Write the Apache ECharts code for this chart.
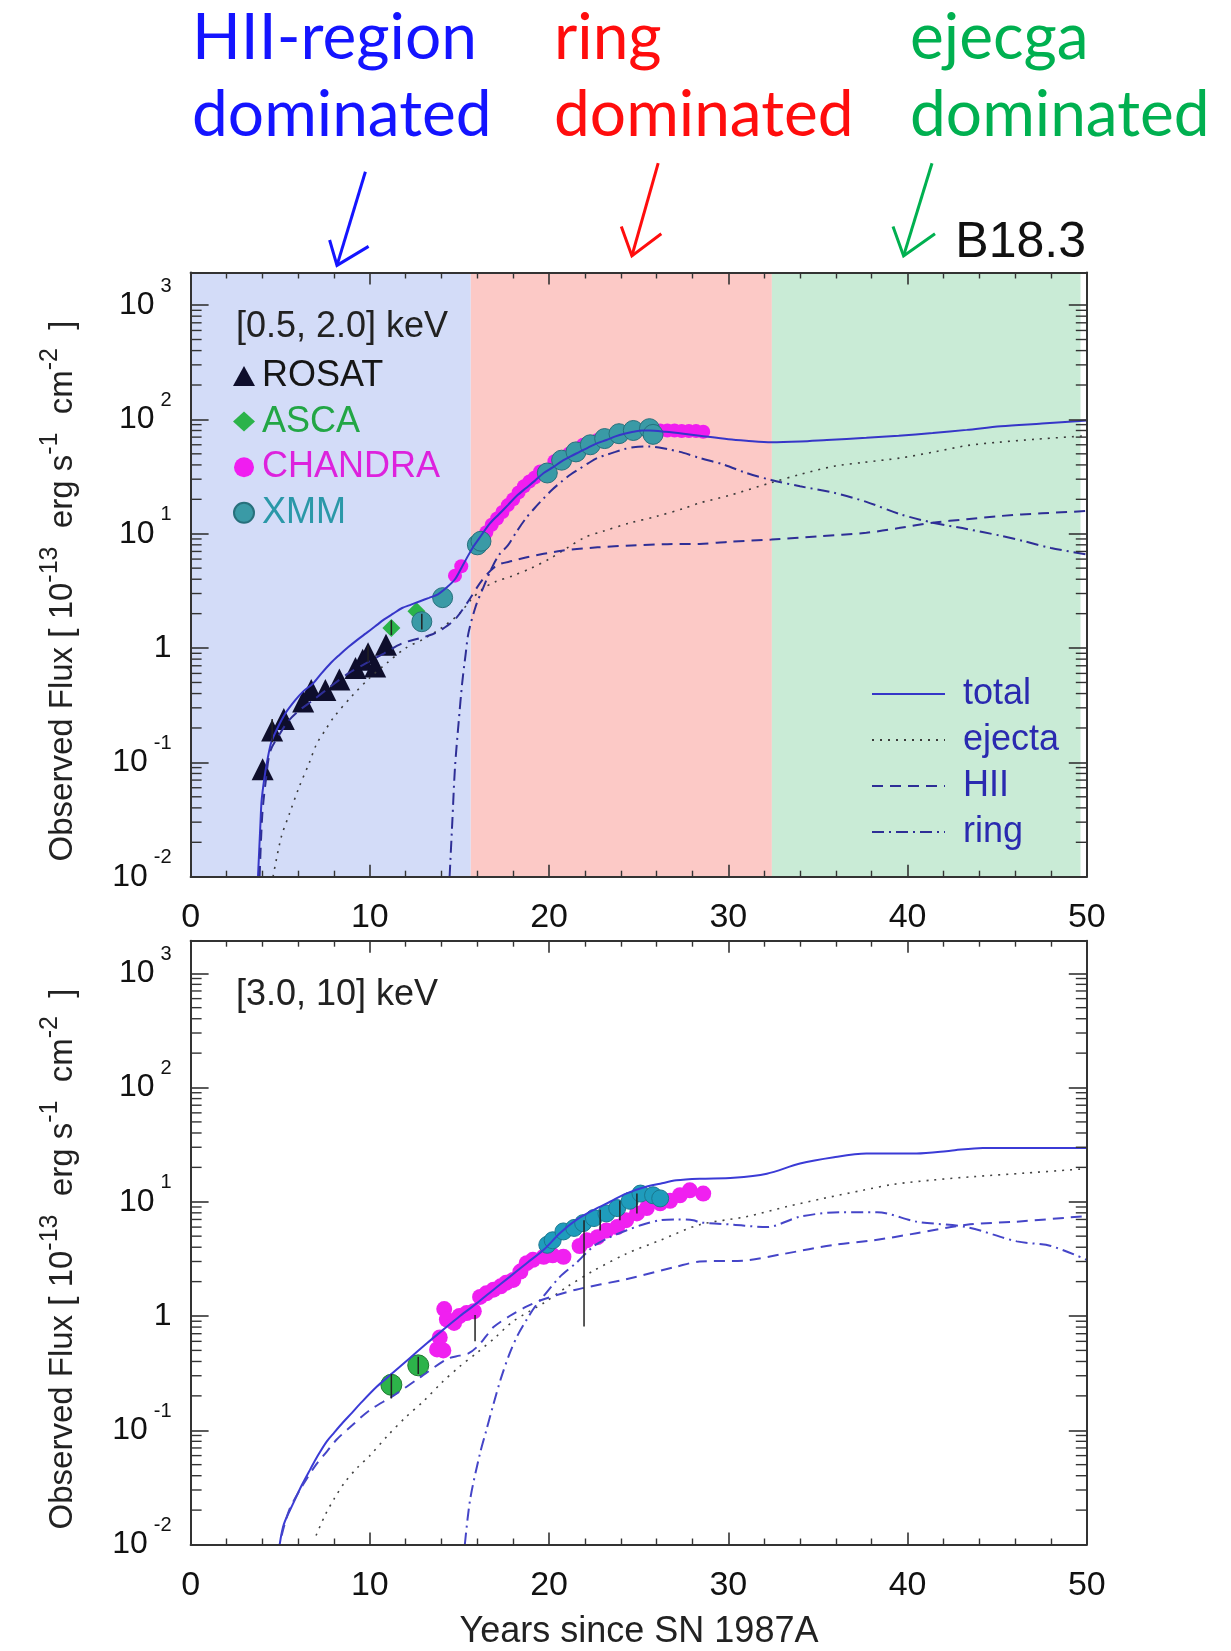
<!DOCTYPE html>
<html><head><meta charset="utf-8">
<script src="https://cdn.jsdelivr.net/npm/echarts@6/dist/echarts.min.js"></script>
<style>html,body{margin:0;padding:0;background:#fff}#c{width:1231px;height:1651px}</style>
</head><body><div id="c"></div>
<script>
// ---------------- data ----------------
const X_TICK_LABELS = [0, 10, 20, 30, 40, 50];
const Y_TICK_EXPONENTS = [-2, -1, 0, 1, 2, 3];
const REGION_BOUNDS = [0, 15.63, 32.43, 49.65];
const REGION_COLORS = ['#d3dcf8', '#fcc9c6', '#c9ebd6'];

// top panel [0.5, 2.0] keV
const topRosat = [[4.02,0.087],[4.55,0.19],[5.2,0.24],[6.28,0.34],[6.73,0.43],[7.52,0.43],[8.3,0.53],[9.2,0.67],[9.6,0.79],[9.9,0.9],[10.3,0.69],[10.9,1.07]];
const topAsca = [[11.2,1.5],[12.6,2.1]];
const topChandra = [[14.75,4.3],[15.1,5.2],[16.5,10.3],[16.8,12],[17.1,13.6],[17.4,15.5],[17.7,17.8],[18.0,20],[18.3,23],[18.6,26],[18.9,28.6],[19.2,31],[19.5,35],[20.3,43],[21.1,50],[21.9,60],[22.7,66],[23.7,74],[24.7,80],[25.4,82],[26.2,80],[26.6,80],[27.0,80],[27.4,79],[27.8,79],[28.2,79],[28.6,78]];
const topXmm = [[12.9,1.7],[14.06,2.76],[16.0,8.0],[16.2,8.6],[19.9,34],[20.7,44],[21.5,52],[22.3,60],[23.1,68],[23.9,75],[24.7,80],[25.6,83],[25.8,74]];
const topErr = [[4.55,0.15,0.24],[9.9,0.75,1.05],[11.2,1.3,1.75],[12.9,1.45,2.0]];
const topTotal = [[3.76,0.01],[3.9,0.03],[3.96,0.046],[4.1,0.07],[4.26,0.10],[4.5,0.15],[4.85,0.2],[5.3,0.27],[5.84,0.35],[6.3,0.42],[6.83,0.49],[7.3,0.6],[7.82,0.74],[8.3,0.87],[8.8,1.02],[9.3,1.18],[9.8,1.35],[10.3,1.55],[10.8,1.78],[11.3,2.0],[11.8,2.24],[12.3,2.4],[12.8,2.57],[13.3,2.75],[13.8,2.95],[14.3,3.4],[14.75,4.0],[15.1,5.0],[15.5,6.5],[15.8,7.8],[16.1,9.1],[16.7,12.3],[17.2,14.8],[17.7,17.8],[18.2,21.5],[18.7,25],[19.2,29],[19.7,34],[20.2,38],[20.7,43],[21.2,47.5],[21.7,52],[22.2,57],[22.7,62],[23.2,66],[23.7,71],[24.2,75],[24.7,78],[25.2,80],[25.6,80],[26.5,78],[27.5,75],[28.4,72],[30,67],[31,65],[32.4,63],[34,64],[35.5,66],[37.7,69],[39.5,72],[41.4,76],[43.3,81],[45.2,87],[47.5,92],[50,98]];
const topEjecta = [[4.6,0.01],[5.05,0.022],[5.5,0.035],[6.04,0.06],[6.63,0.10],[7.03,0.145],[7.5,0.19],[8.0,0.25],[9.0,0.38],[10.0,0.55],[11.0,0.75],[12.0,1.0],[13.0,1.2],[14.0,1.5],[15.0,2.0],[15.6,2.6],[16.3,3.3],[17.0,3.8],[18.0,4.3],[19.0,5.0],[20.0,6.0],[21.0,7.5],[22.0,9.3],[23.0,10.5],[24.5,12.4],[26.0,14.2],[27.5,16.6],[28.4,18.6],[30.0,21.5],[32.4,28],[34,33],[35.9,39],[37.5,42],[39.6,46],[41.5,52],[43.3,59],[45,63],[47.1,67],[50,72]];
const topHII = [[3.85,0.01],[4.0,0.035],[4.2,0.07],[4.45,0.126],[5.0,0.18],[5.45,0.23],[6.0,0.28],[6.83,0.35],[7.8,0.46],[8.8,0.6],[9.8,0.74],[10.8,0.9],[11.8,1.1],[12.8,1.22],[13.5,1.32],[14.0,1.45],[14.75,1.78],[15.5,2.58],[16.3,4.0],[17.1,5.3],[18.0,5.8],[18.7,6.2],[20.7,7.1],[22.7,7.6],[24.6,7.9],[26.6,8.1],[28.4,8.15],[30,8.5],[32.4,8.9],[35,9.5],[37.7,10.2],[39.5,11.2],[41.4,12.5],[43.3,13.4],[45.2,14.3],[47.5,15.1],[50,15.8]];
const topRing = [[14.45,0.01],[14.6,0.03],[14.75,0.09],[14.95,0.22],[15.15,0.49],[15.35,0.9],[15.5,1.35],[15.9,2.3],[16.3,3.3],[16.8,5.0],[17.2,6.5],[17.7,7.9],[18.2,10.5],[18.7,13.6],[19.2,16.8],[19.7,20.4],[20.2,24.5],[20.7,28.6],[21.2,33],[21.7,37],[22.2,41.5],[22.7,46],[23.2,49],[23.7,52],[24.2,55],[24.7,57],[25.6,58],[26.6,55],[27.5,51],[28.4,46],[29.8,40],[31,34],[32.4,29.5],[34,26],[35.9,22.8],[37.7,19],[39.6,14.8],[41.4,12.5],[43.3,11],[45.2,9.6],[46.5,8.6],[48,7.5],[50,6.6]];

// bottom panel [3.0, 10] keV
const botAsca = [[11.2,0.25],[12.7,0.37]];
const botChandra = [[13.75,0.51],[13.9,0.65],[14.1,0.5],[14.15,1.15],[14.3,0.93],[14.7,0.87],[15.0,1.0],[15.4,1.06],[15.8,1.1],[16.15,1.47],[16.5,1.58],[16.9,1.7],[17.3,1.82],[17.6,1.95],[18.0,2.07],[18.4,2.45],[18.75,2.9],[19.1,3.1],[19.7,3.3],[20.2,3.4],[20.8,3.3],[21.7,4.1],[22.1,4.6],[22.7,4.9],[23.2,5.6],[23.8,6.0],[24.3,6.9],[24.9,7.9],[25.45,8.8],[26.2,9.7],[26.75,10.2],[27.3,11.4],[27.85,12.6],[28.6,11.8]];
const botXmm = [[19.9,4.2],[20.2,4.6],[20.8,5.5],[21.4,5.9],[21.9,6.5],[22.5,7.2],[23.2,7.9],[23.8,8.8],[24.5,10.2],[25.1,11.8],[25.8,11.4],[26.2,10.7]];
const botErr = [[11.2,0.19,0.31],[12.7,0.31,0.44],[15.87,0.6,1.02],[21.95,0.81,6.9],[22.85,5.6,8.5],[23.95,6.9,10.2],[24.9,7.9,11.8]];
const botTotal = [[4.97,0.01],[5.2,0.015],[5.73,0.023],[6.2,0.033],[6.66,0.045],[7.1,0.06],[7.6,0.08],[8.0,0.095],[8.52,0.118],[9.0,0.142],[9.45,0.17],[10.38,0.24],[11.3,0.32],[12.24,0.43],[13.2,0.58],[14.1,0.76],[15.03,1.0],[15.96,1.29],[16.9,1.7],[17.8,2.2],[18.75,2.9],[19.7,3.8],[20.6,5.3],[21.5,6.9],[22.5,8.5],[23.4,10],[24.3,11.8],[25.3,13.4],[26.2,14.4],[27.1,15.4],[28.4,15.9],[30.3,16.2],[32.15,17.6],[34.0,21.6],[35.9,24.5],[37.7,26.4],[40.5,26.5],[42.4,28],[44.2,29.6],[47,29.6],[50,29.6]];
const botEjecta = [[7.0,0.012],[7.5,0.018],[8.0,0.025],[8.6,0.035],[9.3,0.047],[10.0,0.06],[11.0,0.09],[12.0,0.13],[13.0,0.18],[14.0,0.26],[15.0,0.36],[16.0,0.48],[17.0,0.65],[18.0,0.9],[19.7,1.3],[21,1.8],[22.5,2.5],[24.3,3.5],[26.2,4.6],[28.4,6.3],[31.0,7.4],[33.3,9.1],[35.3,10.7],[37.5,12.6],[39.2,14.2],[41.4,15.5],[43.7,16.6],[46.5,17.8],[50,19.5]];
const botHII = [[5.08,0.012],[5.5,0.02],[6.2,0.032],[7.0,0.05],[7.6,0.065],[8.15,0.083],[9.0,0.11],[10.0,0.15],[11.3,0.2],[12.8,0.29],[14.3,0.42],[15.0,0.45],[15.5,0.47],[16.0,0.54],[16.5,0.67],[16.9,0.8],[17.8,1.0],[18.7,1.2],[19.7,1.4],[21.5,1.7],[24.3,2.1],[27.1,2.7],[28.4,3.0],[30.8,3.05],[33.1,3.5],[35.9,4.2],[38.1,4.6],[40.5,5.3],[43.3,6.3],[46.1,6.7],[50,7.5]];
const botRing = [[15.3,0.01],[15.6,0.025],[16.15,0.063],[16.5,0.1],[16.9,0.17],[17.3,0.28],[17.8,0.47],[18.25,0.68],[18.75,0.93],[19.2,1.2],[19.7,1.5],[20.6,2.2],[21.5,2.9],[22.5,4.1],[23.4,4.9],[24.3,5.6],[25.2,6.3],[26.2,6.9],[27.1,7.0],[28.05,6.9],[28.4,6.6],[30.3,6.3],[32.15,6.0],[34.0,7.4],[36.2,8.1],[38.3,8.1],[40.5,6.7],[43.3,6.0],[46.1,4.5],[48,4.1],[50,3.1]];

// ---------------- styling ----------------
const FONT = '"Liberation Sans", Arial, Helvetica, sans-serif';
const AX = '#333';
const Y_MIN = 0.01, Y_MAX = 1928;
const MINOR_TICK_VALUES = [];
for (let n = -2; n <= 3; n++) for (let k = 2; k <= 9; k++) { const v = k * Math.pow(10, n); if (v < Y_MAX) MINOR_TICK_VALUES.push([0, v]); }

const chart = echarts.init(document.getElementById('c'), null, {renderer: 'canvas'});

function yLabelFmt(v) {
  const e = Math.log10(v);
  if (Math.abs(e - Math.round(e)) > 1e-6) return '';
  const r = Math.round(e);
  if (Y_TICK_EXPONENTS.indexOf(r) < 0) return '';
  if (r === 0) return '{b|1}';
  return '{b|10}{s|' + r + '}';
}
const yRich = {
  b: {fontSize: 32, fontFamily: FONT, color: '#111', lineHeight: 58},
  s: {fontSize: 20, fontFamily: FONT, color: '#111', lineHeight: 20, verticalAlign: 'top', padding: [0, 0, 0, 6]}
};

function xAxisDef(grid, pos, showLabel) {
  return {
    gridIndex: grid, type: 'value', min: 0, max: 50, interval: 10, position: pos, z: 10,
    axisLine: {show: true, onZero: false, lineStyle: {color: AX, width: 2}},
    axisTick: {show: true, inside: true, length: 12, lineStyle: {color: AX, width: 1.6}},
    minorTick: {show: true, splitNumber: 5, length: 6, lineStyle: {color: AX, width: 1.4}},
    axisLabel: {show: showLabel, margin: 24, fontSize: 34, fontFamily: FONT, color: '#111',
      formatter: v => (X_TICK_LABELS.indexOf(v) >= 0 ? String(v) : '')},
    splitLine: {show: false}
  };
}
function yAxisDef(grid, pos, showLabel) {
  return {
    gridIndex: grid, type: 'log', logBase: 10, min: Y_MIN, max: Y_MAX, position: pos, z: 10,
    axisLine: {show: true, onZero: false, lineStyle: {color: AX, width: 2}},
    axisTick: {show: true, inside: true, length: 18, lineStyle: {color: AX, width: 1.6}},
    minorTick: {show: false},
    axisLabel: {show: showLabel, margin: 19, formatter: yLabelFmt, rich: yRich},
    splitLine: {show: false}
  };
}

function scatter(name, data, xi, yi, symbol, size, color, border) {
  return {name, type: 'scatter', xAxisIndex: xi, yAxisIndex: yi, data, symbol, symbolSize: size, z: 3,
    itemStyle: {color, opacity: 1, borderColor: border || color, borderWidth: border ? 1 : 0}};
}
function line(name, data, xi, yi, color, type, width) {
  return {name, type: 'line', xAxisIndex: xi, yAxisIndex: yi, data, symbol: 'none', showSymbol: false,
    smooth: 0.3, z: 4, clip: true, lineStyle: {color, type, width}, itemStyle: {color}};
}
function errBars(data, xi, yi) {
  return {type: 'custom', xAxisIndex: xi, yAxisIndex: yi, data, z: 5, silent: true,
    renderItem: (p, api) => {
      const a = api.coord([api.value(0), api.value(1)]);
      const b = api.coord([api.value(0), api.value(2)]);
      return {type: 'line', shape: {x1: a[0], y1: a[1], x2: b[0], y2: b[1]}, style: {stroke: '#222', lineWidth: 1.5}};
    }};
}
function minorTicks(xi, yi) {
  return {type: 'custom', xAxisIndex: xi, yAxisIndex: yi, data: MINOR_TICK_VALUES, z: 11, silent: true, clip: false,
    renderItem: (p, api) => {
      const v = api.value(1);
      const a = api.coord([0, v]);
      const b = api.coord([50, v]);
      return {type: 'group', children: [
        {type: 'line', shape: {x1: a[0], y1: a[1], x2: a[0] + 11, y2: a[1]}, style: {stroke: AX, lineWidth: 1.4}},
        {type: 'line', shape: {x1: b[0] - 11, y1: b[1], x2: b[0], y2: b[1]}, style: {stroke: AX, lineWidth: 1.4}}
      ]};
    }};
}

const regionAreas = REGION_COLORS.map((c, i) => [
  {xAxis: REGION_BOUNDS[i], itemStyle: {color: c, opacity: 1}},
  {xAxis: REGION_BOUNDS[i + 1]}
]);

const DASH = [11, 7], DASHDOT = [12, 5, 2, 5], DOT = [2, 6];
const TOPLINE = '#2e2e96', BOTLINE = '#4545c8';

function txt(text, x, y, font, fill, align, extra) {
  return Object.assign({type: 'text', x, y, z: 20, silent: true,
    style: {text, x: 0, y: 0, font, fill, align: align || 'left', verticalAlign: 'middle', textAlign: align || 'left', textVerticalAlign: 'middle'}}, extra || {});
}
function arrow(color, s, t, w1, w2) {
  return [
    {type: 'line', z: 20, silent: true, shape: {x1: s[0], y1: s[1], x2: t[0], y2: t[1]}, style: {stroke: color, lineWidth: 3}},
    {type: 'polyline', z: 20, silent: true, shape: {points: [w1, t, w2]}, style: {stroke: color, lineWidth: 3, fill: null}}
  ];
}
const ANN_FONT = '64px Lato, "Open Sans", sans-serif';
const yTitleRich = {
  n: {fontSize: 33, fontFamily: FONT, color: '#222', lineHeight: 50},
  s: {fontSize: 25, fontFamily: FONT, color: '#222', lineHeight: 25, verticalAlign: 'top'}
};
const yTitleText = '{n|Observed Flux [ 10}{s|-13}{n|  erg s}{s|-1}{n|  cm}{s|-2}{n|  ]}';
function yTitle(x, y) {
  return {type: 'text', x, y, rotation: Math.PI / 2, z: 20, silent: true,
    style: {text: yTitleText, rich: yTitleRich, font: '33px ' + FONT, fill: '#222', x: 0, y: 0,
      align: 'center', verticalAlign: 'middle', textAlign: 'center', textVerticalAlign: 'middle'}};
}

const option = {
  animation: false,
  backgroundColor: '#fff',
  grid: [
    {left: 190.6, top: 272.5, width: 896.2, height: 604.2},
    {left: 190.6, top: 940.7, width: 896.2, height: 603.8}
  ],
  xAxis: [xAxisDef(0, 'bottom', true), xAxisDef(0, 'top', false), xAxisDef(1, 'bottom', true), xAxisDef(1, 'top', false)],
  yAxis: [yAxisDef(0, 'left', true), yAxisDef(0, 'right', false), yAxisDef(1, 'left', true), yAxisDef(1, 'right', false)],
  legend: [
    {orient: 'vertical', left: 228, top: 351, itemWidth: 22, itemHeight: 20, itemGap: 5.6, selectedMode: false,
      textStyle: {fontSize: 36, fontFamily: FONT, lineHeight: 40, padding: [0, 0, 0, 2]},
      data: [
        {name: 'ROSAT', textStyle: {color: '#151515'}},
        {name: 'ASCA', textStyle: {color: '#22a645'}},
        {name: 'CHANDRA', textStyle: {color: '#dd22dd'}},
        {name: 'XMM', textStyle: {color: '#2a98a8'}}
      ]},
    {orient: 'vertical', left: 866, top: 669, itemWidth: 73, itemHeight: 14, itemGap: 6, selectedMode: false,
      itemStyle: {opacity: 0},
      textStyle: {fontSize: 36, fontFamily: FONT, lineHeight: 40, color: '#2a2ab0', padding: [0, 0, 0, 13]},
      data: ['total', 'ejecta', 'HII', 'ring']}
  ],
  series: [
    {type: 'line', xAxisIndex: 0, yAxisIndex: 0, data: [], z: 1, silent: true,
      markArea: {silent: true, data: regionAreas}},
    scatter('ROSAT', topRosat, 0, 0, 'triangle', 22, '#0e0e2c'),
    scatter('ASCA', topAsca, 0, 0, 'diamond', 18, '#2bb34a'),
    scatter('CHANDRA', topChandra, 0, 0, 'circle', 14, '#f01df0'),
    scatter('XMM', topXmm, 0, 0, 'circle', 20, '#3a9aa6', '#27707c'),
    errBars(topErr, 0, 0),
    line('total', topTotal, 0, 0, '#3636c8', 'solid', 2),
    line('ejecta', topEjecta, 0, 0, '#3a3a3a', DOT, 1.6),
    line('HII', topHII, 0, 0, TOPLINE, DASH, 2),
    line('ring', topRing, 0, 0, TOPLINE, DASHDOT, 2),
    minorTicks(0, 0),

    scatter('ASCA', botAsca, 2, 2, 'circle', 21, '#2db34a', '#1f7a30'),
    scatter('CHANDRA', botChandra, 2, 2, 'circle', 16, '#f020f0'),
    scatter('XMM', botXmm, 2, 2, 'circle', 17, '#1f9cbc', '#1a7890'),
    errBars(botErr, 2, 2),
    line('total', botTotal, 2, 2, '#3b3bd6', 'solid', 2),
    line('ejecta', botEjecta, 2, 2, '#444', DOT, 1.6),
    line('HII', botHII, 2, 2, BOTLINE, DASH, 2),
    line('ring', botRing, 2, 2, BOTLINE, DASHDOT, 2),
    minorTicks(2, 2)
  ],
  graphic: [
    txt('HII-region', 192, 38, ANN_FONT, '#1414ff'),
    txt('dominated', 192, 115, ANN_FONT, '#1414ff'),
    txt('ring', 554, 38, ANN_FONT, '#ff0d0d'),
    txt('dominated', 554, 115, ANN_FONT, '#ff0d0d'),
    txt('ejecga', 910, 38, ANN_FONT, '#00b050'),
    txt('dominated', 910, 115, ANN_FONT, '#00b050'),
    ...arrow('#1414ff', [365.4, 171.7], [337, 265.4], [329.6, 240], [368.6, 246.4]),
    ...arrow('#ff0d0d', [658.2, 163.2], [631.9, 255.9], [621.3, 226.4], [661.3, 233.8]),
    ...arrow('#00b050', [932, 163.2], [903.6, 255.9], [893, 226.4], [935, 233.8]),
    txt('B18.3', 1086, 243, '50px ' + FONT, '#111', 'right'),
    txt('[0.5, 2.0] keV', 236, 327, '36px ' + FONT, '#222'),
    txt('[3.0, 10] keV', 236, 995, '36px ' + FONT, '#222'),
    yTitle(63, 591),
    yTitle(63, 1259),
    txt('Years since SN 1987A', 639, 1632, '36px ' + FONT, '#222', 'center')
  ]
};
chart.setOption(option);
</script></body></html>
